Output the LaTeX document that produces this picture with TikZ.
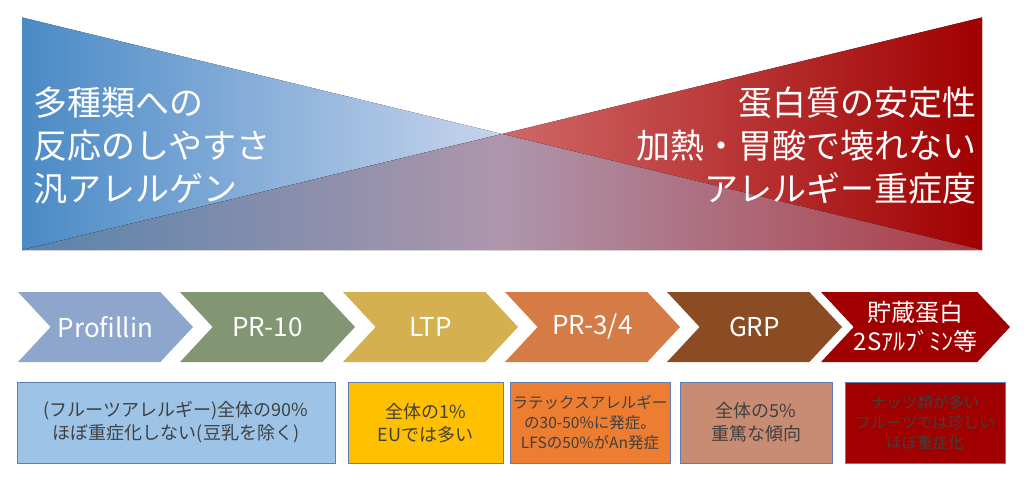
\documentclass[tikz,border=0pt]{standalone}
\usepackage{fontspec}
\setmainfont{Noto Sans CJK JP}
\usetikzlibrary{shapes.symbols}
\definecolor{blueDeep}{RGB}{74,138,198}
\definecolor{blueLight}{RGB}{200,213,237}
\definecolor{redLight}{RGB}{208,104,104}
\definecolor{redDeep}{RGB}{160,0,0}
\definecolor{mixLeft}{RGB}{88,132,172}
\definecolor{mixMid}{RGB}{174,150,172}
\definecolor{mixRight}{RGB}{172,58,68}
\definecolor{profBlue}{RGB}{143,166,204}
\definecolor{prGreen}{RGB}{130,150,115}
\definecolor{ltpGold}{RGB}{212,176,80}
\definecolor{prOrange}{RGB}{212,123,70}
\definecolor{grpBrown}{RGB}{139,75,35}
\definecolor{storeRed}{RGB}{160,0,0}
\definecolor{boxBlue}{RGB}{157,195,230}
\definecolor{boxGold}{RGB}{255,192,0}
\definecolor{boxOrange}{RGB}{237,125,49}
\definecolor{boxSalmon}{RGB}{200,140,115}
\definecolor{boxRed}{RGB}{160,0,0}
\definecolor{boxLine}{RGB}{95,125,185}
\definecolor{boxText}{RGB}{64,64,64}

\begin{document}
\begin{tikzpicture}[
            x=1pt, y=-1pt,
            every node/.style = {
                align=center, inner sep=0pt
            }
        ]
        \tikzstyle{chevron}=[shape=signal, signal from=west, signal to=east, signal pointer angle=94, minimum width=175pt, minimum height=70pt, text=white, font=\fontsize{26}{30}\selectfont]
        \tikzstyle{infobox}=[draw=boxLine, line width=1pt, minimum height=81pt, text=boxText, font=\fontsize{18}{23}\selectfont]
        \tikzstyle{smallbox}=[infobox, font=\fontsize{15.5}{20}\selectfont]
        \tikzstyle{headline}=[text=white, font=\fontsize{34}{43}\selectfont]

        \useasboundingbox (0,0) rectangle (1024,478);

        \fill[left color=blueDeep, right color=blueLight] (22,17.5) -- (502,134) -- (22,250) -- cycle;
        \fill[left color=redLight, right color=redDeep] (982,17.5) -- (982,250) -- (502,134) -- cycle;
        \fill[left color=mixLeft, right color=mixRight, middle color=mixMid] (22,250) -- (502,134) -- (982,250) -- cycle;

        \node[headline, align=left, anchor=west] (broad) at (33,146) {多種類への\\反応のしやすさ\\汎アレルゲン};
        \node[headline, align=right, anchor=east] (stable) at (977,146) {蛋白質の安定性\\加熱・胃酸で壊れない\\アレルギー重症度};

        \node[chevron, fill=profBlue] (profilin) at (105.5,327) {Profillin};
        \node[chevron, fill=prGreen] (pr10) at (267.5,327) {PR-10};
        \node[chevron, fill=ltpGold] (ltp) at (430.5,327) {LTP};
        \node[chevron, fill=prOrange] (pr34) at (592.5,327) {PR-3/4};
        \node[chevron, fill=grpBrown] (grp) at (754.5,327) {GRP};
        \node[chevron, fill=storeRed, font=\fontsize{24}{29}\selectfont] (storage) at (915.5,327) {貯蔵蛋白\\2Sｱﾙﾌﾞﾐﾝ等};

        \node[infobox, fill=boxBlue, minimum width=318pt] (profnote) at (176,422.5) {(フルーツアレルギー)全体の90\%\\ほぼ重症化しない(豆乳を除く)};
        \node[infobox, fill=boxGold, minimum width=155pt] (ltpnote) at (425.5,423) {全体の1\%\\EUでは多い};
        \node[smallbox, fill=boxOrange, minimum width=160pt] (pr34note) at (590,423) {ラテックスアレルギー\\の30-50\%に発症。\\LFSの50\%がAn発症};
        \node[infobox, fill=boxSalmon, minimum width=152pt] (grpnote) at (756,422.5) {全体の5\%\\重篤な傾向};
        \node[smallbox, fill=boxRed, minimum width=160pt] (storagenote) at (925,422.5) {ナッツ類が多い\\フルーツでは珍しい\\ほぼ重症化};
\end{tikzpicture}
\end{document}
